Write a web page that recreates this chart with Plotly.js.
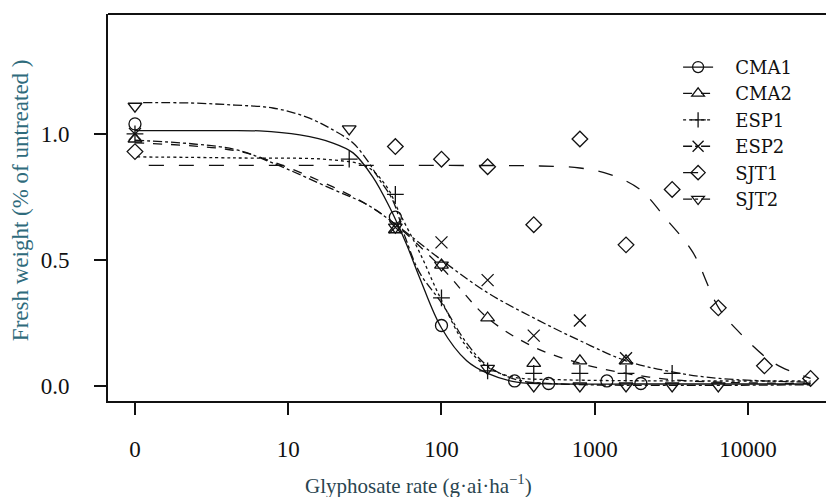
<!DOCTYPE html>
<html>
<head>
<meta charset="utf-8">
<script src="https://cdn.plot.ly/plotly-3.0.1.min.js"></script>
<style>html,body{margin:0;padding:0;overflow:hidden;background:#fff}</style>
</head>
<body>
<div id="chart" style="width:826px;height:497px"></div>
<script>
// Dose 0 is drawn at position 1 on the log axis (tick label "0")
const tickVals = [1, 10, 100, 1000, 10000];
const tickText = ["0", "10", "100", "1000", "10000"];
const yTickVals = [0, 0.5, 1.0];
const yTickText = ["0.0", "0.5", "1.0"];

// Observed points
const cma1X = [1, 50, 100, 300, 500, 1200, 2000];
const cma1Y = [1.04, 0.67, 0.24, 0.02, 0.01, 0.02, 0.01];
const cma2X = [1, 50, 100, 200, 400, 800, 1600];
const cma2Y = [0.98, 0.62, 0.48, 0.27, 0.09, 0.10, 0.10];
const esp1X = [1, 25, 50, 100, 200, 400, 800, 1600, 3200];
const esp1Y = [1.0, 0.90, 0.76, 0.35, 0.06, 0.05, 0.05, 0.05, 0.05];
const esp2X = [1, 50, 100, 200, 400, 800, 1600];
const esp2Y = [1.0, 0.63, 0.57, 0.42, 0.20, 0.26, 0.11];
const sjt1X = [1, 50, 100, 200, 400, 800, 1600, 3200, 6400, 12800, 25600];
const sjt1Y = [0.93, 0.95, 0.90, 0.87, 0.64, 0.98, 0.56, 0.78, 0.31, 0.08, 0.03];
const sjt2X = [1, 25, 50, 100, 200, 400, 800, 1600, 3200, 6400];
const sjt2Y = [1.11, 1.02, 0.63, 0.48, 0.07, 0.0, 0.0, 0.0, 0.0, 0.0];

// Fitted curves
const cma1FitX = [1, 3, 6.5, 11.9, 19.6, 26.5, 35.6, 45.8, 59.3, 72, 100, 146, 200, 310, 600, 2000, 25600];
const cma1FitY = [1.013, 1.013, 1.012, 0.996, 0.964, 0.925, 0.83, 0.71, 0.56, 0.43, 0.23, 0.10, 0.05, 0.015, 0.008, 0.008, 0.008];
const cma2FitX = [1, 4.4, 7.9, 19.6, 32.6, 48, 100, 200, 400, 800, 1600, 3200, 6500, 25600];
const cma2FitY = [0.965, 0.935, 0.89, 0.79, 0.72, 0.65, 0.47, 0.27, 0.155, 0.09, 0.05, 0.025, 0.015, 0.01];
const esp1FitX = [1.03, 4.4, 19.6, 32.6, 44, 53.3, 72, 100, 146, 200, 290, 590, 25600];
const esp1FitY = [0.909, 0.905, 0.897, 0.87, 0.79, 0.686, 0.53, 0.34, 0.155, 0.075, 0.036, 0.025, 0.02];
const esp2FitX = [1, 4.4, 7.9, 19.6, 32.6, 48, 100, 200, 400, 800, 1600, 3200, 6500, 25600];
const esp2FitY = [0.975, 0.94, 0.885, 0.78, 0.72, 0.65, 0.50, 0.37, 0.27, 0.18, 0.10, 0.056, 0.03, 0.015];
const sjt1FitX = [1.23, 11.9, 113, 438, 800, 1250, 1970, 2950, 4370, 6440, 8870, 13000, 16500, 25600];
const sjt1FitY = [0.875, 0.875, 0.875, 0.873, 0.865, 0.84, 0.78, 0.66, 0.53, 0.31, 0.21, 0.115, 0.075, 0.03];
const sjt2FitX = [1.13, 2.28, 4.36, 7.93, 13.2, 19.6, 26.5, 32.6, 39.6, 48, 58, 72, 100, 146, 200, 310, 600, 25600];
const sjt2FitY = [1.124, 1.123, 1.115, 1.103, 1.067, 1.016, 0.964, 0.897, 0.817, 0.738, 0.59, 0.45, 0.33, 0.17, 0.08, 0.025, 0.008, 0.005];

const names = ["CMA1", "CMA2", "ESP1", "ESP2", "SJT1", "SJT2"];
const symbols = ["circle-open", "triangle-up-open", "cross-thin-open", "x-thin-open", "diamond-open", "triangle-down-open"];
const dashes = ["solid", "dash", "dot", "dashdot", "longdash", "dashdot"];
const ptsX = [cma1X, cma2X, esp1X, esp2X, sjt1X, sjt2X];
const ptsY = [cma1Y, cma2Y, esp1Y, esp2Y, sjt1Y, sjt2Y];
const fitX = [cma1FitX, cma2FitX, esp1FitX, esp2FitX, sjt1FitX, sjt2FitX];
const fitY = [cma1FitY, cma2FitY, esp1FitY, esp2FitY, sjt1FitY, sjt2FitY];

const ink = "#111111";
const traces = [];
for (let i = 0; i < names.length; i++) {
  traces.push({
    x: fitX[i], y: fitY[i], mode: "lines", type: "scatter",
    line: {color: ink, width: 1.3, dash: dashes[i], shape: "spline", smoothing: 1},
    showlegend: false, hoverinfo: "skip"
  });
}
for (let i = 0; i < names.length; i++) {
  traces.push({
    x: ptsX[i], y: ptsY[i], mode: "markers", type: "scatter", name: names[i],
    marker: {symbol: symbols[i], size: 12, color: ink, line: {color: ink, width: 1.3}},
    showlegend: false
  });
  // legend entry: line + marker
  traces.push({
    x: [null], y: [null], mode: "lines+markers", type: "scatter",
    name: "\u00A0\u00A0\u00A0" + names[i],
    line: {color: ink, width: 1.3, dash: dashes[i]},
    marker: {symbol: symbols[i], size: 11, color: ink, line: {color: ink, width: 1.3}},
    showlegend: true
  });
}

const serif = "Liberation Serif, Times New Roman, serif";
const layout = {
  width: 826, height: 497,
  margin: {l: 108, r: 0, t: 14, b: 96},
  paper_bgcolor: "#fff", plot_bgcolor: "#fff",
  font: {family: serif, color: "#111", size: 23},
  showlegend: true,
  legend: {x: 0.794, xanchor: "left", y: 0.91, yanchor: "top", bgcolor: "rgba(0,0,0,0)",
           font: {family: "DejaVu Serif, serif", size: 18, color: "#111"}, tracegroupgap: 0, itemwidth: 30},
  xaxis: {
    type: "log", range: [-0.176, 4.509],
    tickvals: tickVals, ticktext: tickText,
    showgrid: false, zeroline: false,
    showline: true, linecolor: ink, linewidth: 2,
    ticks: "outside", ticklen: 12, tickwidth: 2, tickcolor: ink,
    ticklabelstandoff: 14,
    tickfont: {family: serif, size: 23, color: "#111"}
  },
  yaxis: {
    range: [-0.0595, 1.476],
    tickvals: yTickVals, ticktext: yTickText,
    showgrid: false, zeroline: false,
    showline: true, linecolor: ink, linewidth: 2,
    ticks: "outside", ticklen: 12, tickwidth: 2, tickcolor: ink,
    ticklabelstandoff: 20,
    tickfont: {family: serif, size: 23, color: "#111"}
  },
  shapes: [{type: "line", xref: "paper", yref: "paper", x0: 0, x1: 1, y0: 1, y1: 1,
            line: {color: ink, width: 2}}],
  annotations: [
    {text: "Fresh weight (% of untreated )", xref: "paper", yref: "paper", x: -0.122, y: 0.52,
     xanchor: "center", yanchor: "middle", textangle: -90, showarrow: false,
     font: {family: serif, size: 23, color: "#2f6b7c"}},
    {text: "Glyphosate rate (g·ai·ha<sup>−1</sup>)", xref: "paper", yref: "paper", x: 0.432, y: -0.215,
     xanchor: "center", yanchor: "middle", showarrow: false,
     font: {family: serif, size: 21, color: "#2a4550"}}
  ]
};
Plotly.newPlot("chart", traces, layout, {displayModeBar: false, staticPlot: true});
</script>
</body>
</html>
